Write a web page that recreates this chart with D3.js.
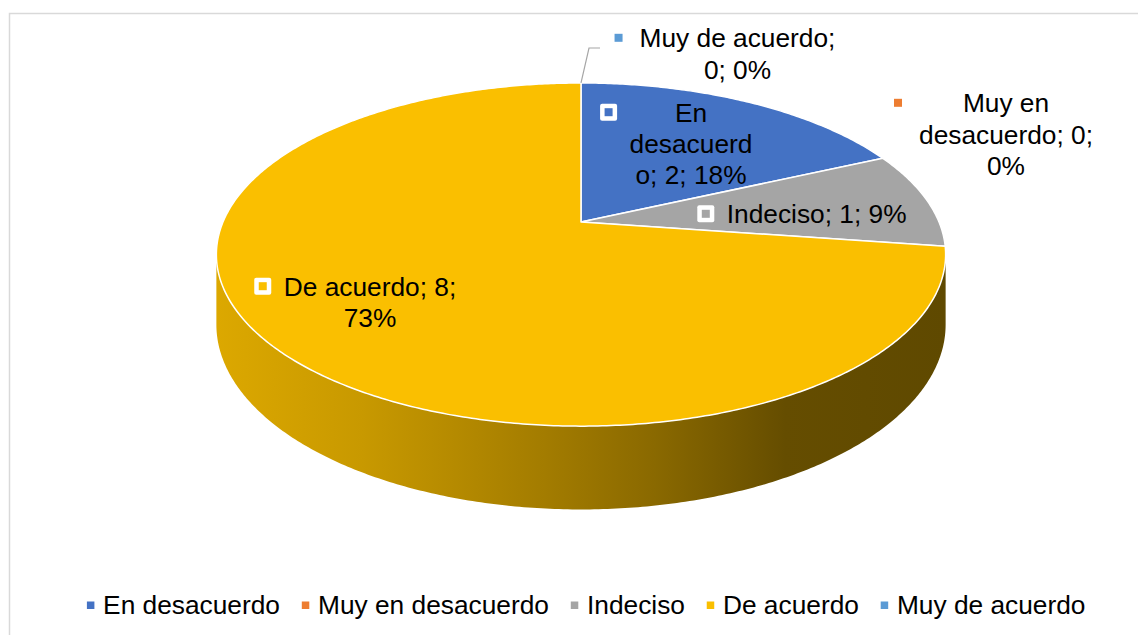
<!DOCTYPE html>
<html><head><meta charset="utf-8">
<script src="https://cdn.jsdelivr.net/npm/d3@7"></script>
<style>
body{margin:0;background:#fff;}
text{font-family:"Liberation Sans",Arial,sans-serif;fill:#000;}
</style>
</head><body>
<svg id="c" width="1138" height="635"></svg>
<script>
// ---- data ----
const categories = ["En desacuerdo","Muy en desacuerdo","Indeciso","De acuerdo","Muy de acuerdo"];
const values = [2, 0, 1, 8, 0];
const seriesColors = ["#4472C4","#ED7D31","#A5A5A5","#FABF00","#5B9BD5"];

// ---- layout (label placement, line breaks) ----
const labelLayout = [
  {cx:691,   base:121.7, breaks:[3,12]},
  {cx:1006,  base:112.3, breaks:[7,22]},
  {cx:816.7, base:223.3, breaks:[]},
  {cx:370,   base:295.7, breaks:[15]},
  {cx:737.5, base:47.3,  breaks:[16]}
];

const svg = d3.select("#c");
const W = 1138, H = 635;
svg.append("rect").attr("x",0).attr("y",0).attr("width",W).attr("height",H).attr("fill","#fff");
svg.append("rect").attr("x",9.5).attr("y",13.5).attr("width",1300).attr("height",800)
  .attr("fill","none").attr("stroke","#D9D9D9").attr("stroke-width",1.5);

const color = d3.scaleOrdinal().domain(categories).range(seriesColors);
const total = d3.sum(values);
const pct = d3.format(".0%");

// ---- 3D projection ----
const cx = 581, cy = 222, R = 358, K = 165.4, D = 5.27, depth = 67.5;
function proj(a, r, h){
  const u = -r*Math.cos(a);
  const s = D/(D-u);
  return [cx + R*r*Math.sin(a)*s, cy + (K*u + h)*s];
}
function arcPts(a0, a1, h){
  const n = Math.max(2, Math.ceil(Math.abs(a1-a0)/0.01));
  const pts = [];
  for(let i=0;i<=n;i++){ pts.push(proj(a0+(a1-a0)*i/n, 1, h)); }
  return pts;
}

const pie = d3.pie().sort(null).value(d=>d.v);
const data = categories.map((c,i)=>({c, v:values[i], i}));
const arcs = pie(data);

const defs = svg.append("defs");
const line = d3.line();

// side walls (visible front part)
const aVis0 = Math.acos(-1/D), aVis1 = 2*Math.PI - aVis0;
const sideStops = [[0,0.88],[0.2,0.8],[0.45,0.65],[0.6,0.55],[0.78,0.405],[1,0.38]];
arcs.forEach(a=>{
  if(a.data.v<=0) return;
  const s0 = Math.max(a.startAngle, aVis0), s1 = Math.min(a.endAngle, aVis1);
  if(s1<=s0) return;
  const base = d3.rgb(color(a.data.c));
  const gid = "side"+a.data.i;
  const g = defs.append("linearGradient").attr("id",gid).attr("gradientUnits","userSpaceOnUse")
    .attr("x1",cx-R*1.02).attr("x2",cx+R*1.02).attr("y1",0).attr("y2",0);
  sideStops.forEach(([o,f])=>{
    g.append("stop").attr("offset",o)
      .attr("stop-color", d3.rgb(base.r*f, base.g*f, base.b*f).formatHex());
  });
  const top = arcPts(s0, s1, 0);
  const bot = arcPts(s1, s0, depth);
  svg.append("path").attr("d", line(top.concat(bot))+"Z").attr("fill","url(#"+gid+")");
});

// top faces
arcs.forEach(a=>{
  if(a.data.v<=0) return;
  const pts = [proj(0,0,0)].concat(arcPts(a.startAngle, a.endAngle, 0));
  svg.append("path").attr("d", line(pts)+"Z")
    .attr("fill", color(a.data.c))
    .attr("stroke","#fff").attr("stroke-width",1.5).attr("stroke-linejoin","round");
});

// leader line for the zero slice at the top
const p0 = proj(0,1,0);
svg.append("path").attr("d", line([p0,[589,48],[600,48]]))
  .attr("fill","none").attr("stroke","#A6A6A6").attr("stroke-width",1.2);

// data labels
const FS = 26.3, LH = 31.3;
arcs.forEach((a,k)=>{
  const L = labelLayout[k];
  const full = `${a.data.c}; ${a.data.v}; ${pct(a.data.v/total)}`;
  const cuts = [0].concat(L.breaks, [full.length]);
  const lines = [];
  for(let j=0;j<cuts.length-1;j++) lines.push(full.slice(cuts[j],cuts[j+1]).trim());
  const t = svg.append("text").attr("font-size",FS).attr("text-anchor","middle");
  lines.forEach((ln,j)=>{
    t.append("tspan").attr("x",L.cx).attr("y",L.base + j*LH).text(ln);
  });
  let maxW = 0;
  t.selectAll("tspan").each(function(){ maxW = Math.max(maxW, this.getComputedTextLength()); });
  const mx = L.cx - maxW/2 - 21, my = L.base - 9.5;
  svg.append("rect").attr("x",mx-8.5).attr("y",my-8.5).attr("width",17).attr("height",17)
    .attr("rx",2).attr("fill","#fff");
  svg.append("rect").attr("x",mx-4).attr("y",my-4).attr("width",8).attr("height",8)
    .attr("fill",color(a.data.c));
});

// legend
const leg = svg.append("g");
let lx = 90.6;
const ly = 614;
categories.forEach(c=>{
  leg.append("rect").attr("x",lx-3.7).attr("y",ly-12.5).attr("width",7.5).attr("height",7.5)
    .attr("fill",color(c));
  const t = leg.append("text").attr("x",lx+12.5).attr("y",ly).attr("font-size",FS).text(c);
  const w = t.node().getComputedTextLength();
  lx = lx + 12.5 + w + 25.5;
});
</script>
</body></html>
